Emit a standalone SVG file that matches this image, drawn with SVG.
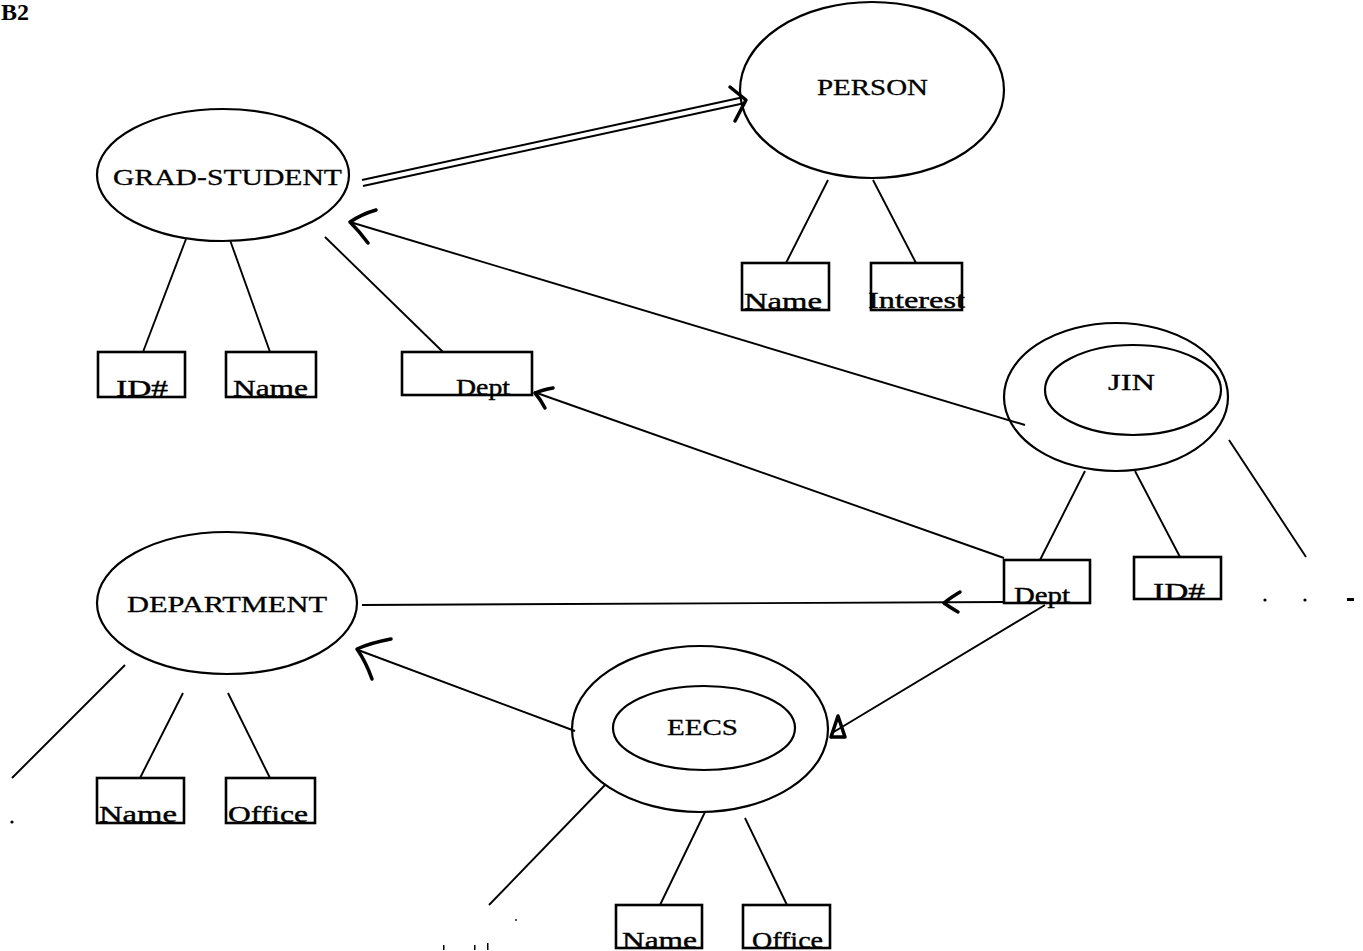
<svg xmlns="http://www.w3.org/2000/svg" width="1363" height="951" viewBox="0 0 1363 951">
<style>
.e{fill:none;stroke:#000;stroke-width:2.2}
.b{fill:none;stroke:#000;stroke-width:2.6}
.l{stroke:#000;stroke-width:1.9;fill:none}
.a{stroke:#000;stroke-width:3.5;fill:none;stroke-linecap:round;stroke-linejoin:round}
.t{font-family:"Liberation Serif","Times New Roman",serif;font-size:23px;fill:#000;stroke:#000;stroke-width:0.3}
.s{font-family:"Liberation Serif","Times New Roman",serif;font-size:24px;fill:#000;stroke:#000;stroke-width:0.4}
</style>
<rect width="1363" height="951" fill="#fff"/>
<text x="1" y="20" style="font-family:'Liberation Serif',serif;font-size:24px;font-weight:bold">B2</text>

<g id="person">
<ellipse class="e" cx="872" cy="90" rx="132" ry="88"/>
<text class="t" x="817" y="95" textLength="111" lengthAdjust="spacingAndGlyphs">PERSON</text>
</g>
<g id="person-name"><rect class="b" x="742" y="263" width="87" height="47"/><text class="s" x="744" y="309" textLength="78" lengthAdjust="spacingAndGlyphs">Name</text></g>
<g id="person-interest"><rect class="b" x="871" y="263" width="91" height="47"/><text class="s" x="868" y="308" textLength="97" lengthAdjust="spacingAndGlyphs">Interest</text></g>

<g id="grad-student">
<ellipse class="e" cx="223" cy="175" rx="126" ry="66"/>
<text class="t" x="113" y="185" textLength="229" lengthAdjust="spacingAndGlyphs">GRAD-STUDENT</text>
</g>
<g id="gs-id"><rect class="b" x="98" y="352" width="87" height="45"/><text class="s" x="116" y="396" textLength="52" lengthAdjust="spacingAndGlyphs">ID#</text></g>
<g id="gs-name"><rect class="b" x="226" y="352" width="90" height="45"/><text class="s" x="233" y="396" textLength="75" lengthAdjust="spacingAndGlyphs">Name</text></g>
<g id="gs-dept"><rect class="b" x="402" y="352" width="130" height="43"/><text class="s" x="456" y="395" textLength="54" lengthAdjust="spacingAndGlyphs">Dept</text></g>

<g id="jin">
<ellipse class="e" cx="1116" cy="397" rx="112" ry="74"/>
<ellipse class="e" cx="1133" cy="390" rx="88" ry="45"/>
<text class="t" x="1108" y="390" textLength="47" lengthAdjust="spacingAndGlyphs">JIN</text>
</g>
<g id="jin-dept"><rect class="b" x="1004" y="560" width="86" height="43"/><text class="s" x="1014" y="603" textLength="56" lengthAdjust="spacingAndGlyphs">Dept</text></g>
<g id="jin-id"><rect class="b" x="1134" y="557" width="87" height="42"/><text class="s" x="1153" y="599" textLength="52" lengthAdjust="spacingAndGlyphs">ID#</text></g>

<g id="department">
<ellipse class="e" cx="227" cy="603" rx="130" ry="71"/>
<text class="t" x="127" y="612" textLength="200" lengthAdjust="spacingAndGlyphs">DEPARTMENT</text>
</g>
<g id="dep-name"><rect class="b" x="97" y="778" width="87" height="45"/><text class="s" x="99" y="822" textLength="78" lengthAdjust="spacingAndGlyphs">Name</text></g>
<g id="dep-office"><rect class="b" x="226" y="778" width="89" height="45"/><text class="s" x="228" y="822" textLength="80" lengthAdjust="spacingAndGlyphs">Office</text></g>

<g id="eecs">
<ellipse class="e" cx="700" cy="729" rx="128" ry="83"/>
<ellipse class="e" cx="704" cy="728" rx="91" ry="42"/>
<text class="t" x="667" y="735" textLength="71" lengthAdjust="spacingAndGlyphs">EECS</text>
</g>
<g id="eecs-name"><rect class="b" x="616" y="905" width="86" height="43"/><text class="s" x="622" y="948" textLength="75" lengthAdjust="spacingAndGlyphs">Name</text></g>
<g id="eecs-office"><rect class="b" x="743" y="905" width="87" height="43"/><text class="s" x="752" y="948" textLength="71" lengthAdjust="spacingAndGlyphs">Office</text></g>

<g id="connectors">
<line class="l" x1="828" y1="180" x2="786" y2="263"/>
<line class="l" x1="873" y1="180" x2="916" y2="263"/>
<line class="l" x1="186" y1="239" x2="143" y2="352"/>
<line class="l" x1="230" y1="240" x2="270" y2="352"/>
<line class="l" x1="325" y1="237" x2="443" y2="352"/>
<line class="l" x1="1085" y1="471" x2="1040" y2="560"/>
<line class="l" x1="1135" y1="471" x2="1180" y2="557"/>
<line class="l" x1="1229" y1="440" x2="1306" y2="557"/>
<line class="l" x1="125" y1="665" x2="12" y2="778"/>
<line class="l" x1="183" y1="693" x2="140" y2="778"/>
<line class="l" x1="228" y1="693" x2="270" y2="778"/>
<line class="l" x1="605" y1="785" x2="489" y2="905"/>
<line class="l" x1="705" y1="812" x2="660" y2="905"/>
<line class="l" x1="745" y1="818" x2="787" y2="905"/>
<line class="l" x1="362" y1="180" x2="744" y2="97" stroke-width="2.3"/>
<line class="l" x1="363" y1="186" x2="745" y2="103" stroke-width="2.3"/>
<path class="a" d="M730,87 L746,100 L735,121"/>
<line class="l" x1="1025" y1="425" x2="350" y2="222" stroke-width="2.2"/>
<path class="a" d="M376,210 Q362,214 350,222 Q360,232 368,243"/>
<line class="l" x1="1004" y1="558" x2="534" y2="392" stroke-width="2.2"/>
<path class="a" d="M553,388 Q542,390 535,393 Q541,400 545,408"/>
<line class="l" x1="362" y1="605" x2="1004" y2="602" stroke-width="2.2"/>
<path class="a" d="M960,592 Q950,598 944,603 Q951,608 958,612"/>
<line class="l" x1="575" y1="731" x2="358" y2="650" stroke-width="2.2"/>
<path class="a" d="M391,639 Q370,643 357,649 Q366,662 372,679"/>
<line class="l" x1="1045" y1="605" x2="832" y2="733" stroke-width="2.2"/>
<path class="a" d="M838,716 L831,737 L845,737 Z"/>
<circle cx="1265" cy="600" r="1.6"/>
<circle cx="1305" cy="600" r="1.6"/>
<rect x="1347" y="598" width="7" height="3"/>
<circle cx="12" cy="822" r="1.6"/>
<circle cx="516" cy="920" r="0.9"/>
<rect x="443" y="945" width="1.5" height="5"/>
<rect x="474" y="945" width="1.5" height="5"/>
<rect x="487" y="943" width="1.5" height="7"/>
</g>
</svg>
